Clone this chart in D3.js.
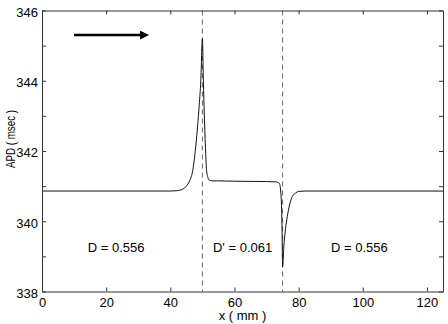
<!DOCTYPE html>
<html>
<head>
<meta charset="utf-8">
<script src="https://cdn.jsdelivr.net/npm/d3@7"></script>
<style>
  body { margin: 0; background: #fff; }
  text { font-family: "Liberation Sans", Arial, Helvetica, sans-serif; fill: #000; }
</style>
</head>
<body>
<script>
// APD profile along the fibre
let xs = [0, 30, 40, 42, 44, 45, 46, 47, 48, 48.5, 49, 49.5, 50, 50.3, 50.6, 51, 51.3, 51.7, 52, 53, 55, 60, 70, 73,
    74, 74.5, 74.8, 75, 75.4, 75.8, 76.3, 77, 78, 79, 80, 82, 85, 100, 125];
let apd = [340.86, 340.86, 340.86, 340.87, 340.92, 341.0, 341.15, 341.45, 342.2, 342.7, 343.3, 344.0, 345.2, 344.0, 343.0, 342.0, 341.45, 341.25, 341.18, 341.15, 341.15, 341.14, 341.13, 341.12,
    341.08, 340.75, 339.9, 338.7, 339.3, 339.7, 340.04, 340.4, 340.7, 340.8, 340.85, 340.86, 340.86, 340.86, 340.86];

let xTicks = [0, 20, 40, 60, 80, 100, 120];
let yTicks = [338, 339, 340, 341, 342, 343, 344, 345, 346];
let yLabels = [338, 340, 342, 344, 346];
let borders = [50, 75];
let arrowX = [10, 34.3];
let arrowY = 345.3;
let notes = [
    {x: 14.25, y: 339.12, t: 'D = 0.556'},
    {x: 53.3, y: 339.12, t: "D' = 0.061"},
    {x: 90.1, y: 339.12, t: 'D = 0.556'}
];

let W = 448, H = 324;
let mLeft = 42, mRight = 443, mTop = 10.5, mBottom = 291.5;

let svg = d3.select('body').append('svg')
    .attr('width', W)
    .attr('height', H);

let x = d3.scaleLinear().domain([0, 125]).range([mLeft, mRight]);
let y = d3.scaleLinear().domain([338, 346]).range([mBottom, mTop]);

// dashed region borders
svg.selectAll('line.border')
    .data(borders)
    .enter()
    .append('line')
    .attr('class', 'border')
    .attr('x1', d => x(d)).attr('x2', d => x(d))
    .attr('y1', mTop).attr('y2', mBottom)
    .attr('stroke', '#666')
    .attr('stroke-width', 1)
    .attr('stroke-dasharray', '5,4');

// curve
let pts = xs.map((d, i) => [d, apd[i]]);
let line = d3.line()
    .x(d => x(d[0]))
    .y(d => y(d[1]))
    .curve(d3.curveMonotoneX);
svg.append('path')
    .attr('d', line(pts))
    .attr('fill', 'none')
    .attr('stroke', '#111')
    .attr('stroke-width', 1);

// axes box with inward ticks
let tl = 4;
let gb = svg.append('g').attr('transform', `translate(0,${mBottom})`)
    .call(d3.axisBottom(x).tickValues(xTicks).tickSizeInner(-tl).tickSizeOuter(0).tickPadding(6));
let gt = svg.append('g').attr('transform', `translate(0,${mTop})`)
    .call(d3.axisTop(x).tickValues(xTicks).tickSizeInner(-tl).tickSizeOuter(0).tickFormat(''));
let gl = svg.append('g').attr('transform', `translate(${mLeft},0)`)
    .call(d3.axisLeft(y).tickValues(yTicks).tickSizeInner(-tl).tickSizeOuter(0).tickPadding(4)
        .tickFormat(d => yLabels.includes(d) ? d : ''));
let gr = svg.append('g').attr('transform', `translate(${mRight},0)`)
    .call(d3.axisRight(y).tickValues(yTicks).tickSizeInner(-tl).tickSizeOuter(0).tickFormat(''));

[gb, gt, gl, gr].forEach(g => {
    g.select('.domain').attr('stroke', '#333');
    g.selectAll('.tick line').attr('stroke', '#333');
    g.selectAll('text').style('font-size', '13px').attr('fill', '#000');
});
gl.selectAll('text').attr('dy', '0.45em');

// arrow
svg.append('defs').append('marker')
    .attr('id', 'head')
    .attr('viewBox', '0 0 10 10')
    .attr('refX', 0).attr('refY', 5)
    .attr('markerWidth', 5).attr('markerHeight', 3.6)
    .attr('markerUnits', 'strokeWidth')
    .attr('orient', 'auto')
    .append('path')
    .attr('d', 'M0,0L10,5L0,10z')
    .attr('fill', '#000');
svg.append('line')
    .attr('x1', x(arrowX[0])).attr('x2', x(arrowX[1]) - 12)
    .attr('y1', y(arrowY)).attr('y2', y(arrowY))
    .attr('stroke', '#000')
    .attr('stroke-width', 2.5)
    .attr('marker-end', 'url(#head)');

// annotations
svg.selectAll('text.note')
    .data(notes)
    .enter()
    .append('text')
    .attr('class', 'note')
    .attr('x', d => x(d.x))
    .attr('y', d => y(d.y))
    .style('font-size', '13px')
    .text(d => d.t);

// axis labels
svg.append('text')
    .attr('x', (mLeft + mRight) / 2)
    .attr('y', 320)
    .attr('text-anchor', 'middle')
    .style('font-size', '13px')
    .text('x ( mm )');
svg.append('text')
    .attr('transform', 'translate(15,139) rotate(-90)')
    .attr('text-anchor', 'middle')
    .attr('textLength', 58)
    .attr('lengthAdjust', 'spacingAndGlyphs')
    .style('font-size', '12.5px')
    .text('APD ( msec )');
</script>
</body>
</html>
